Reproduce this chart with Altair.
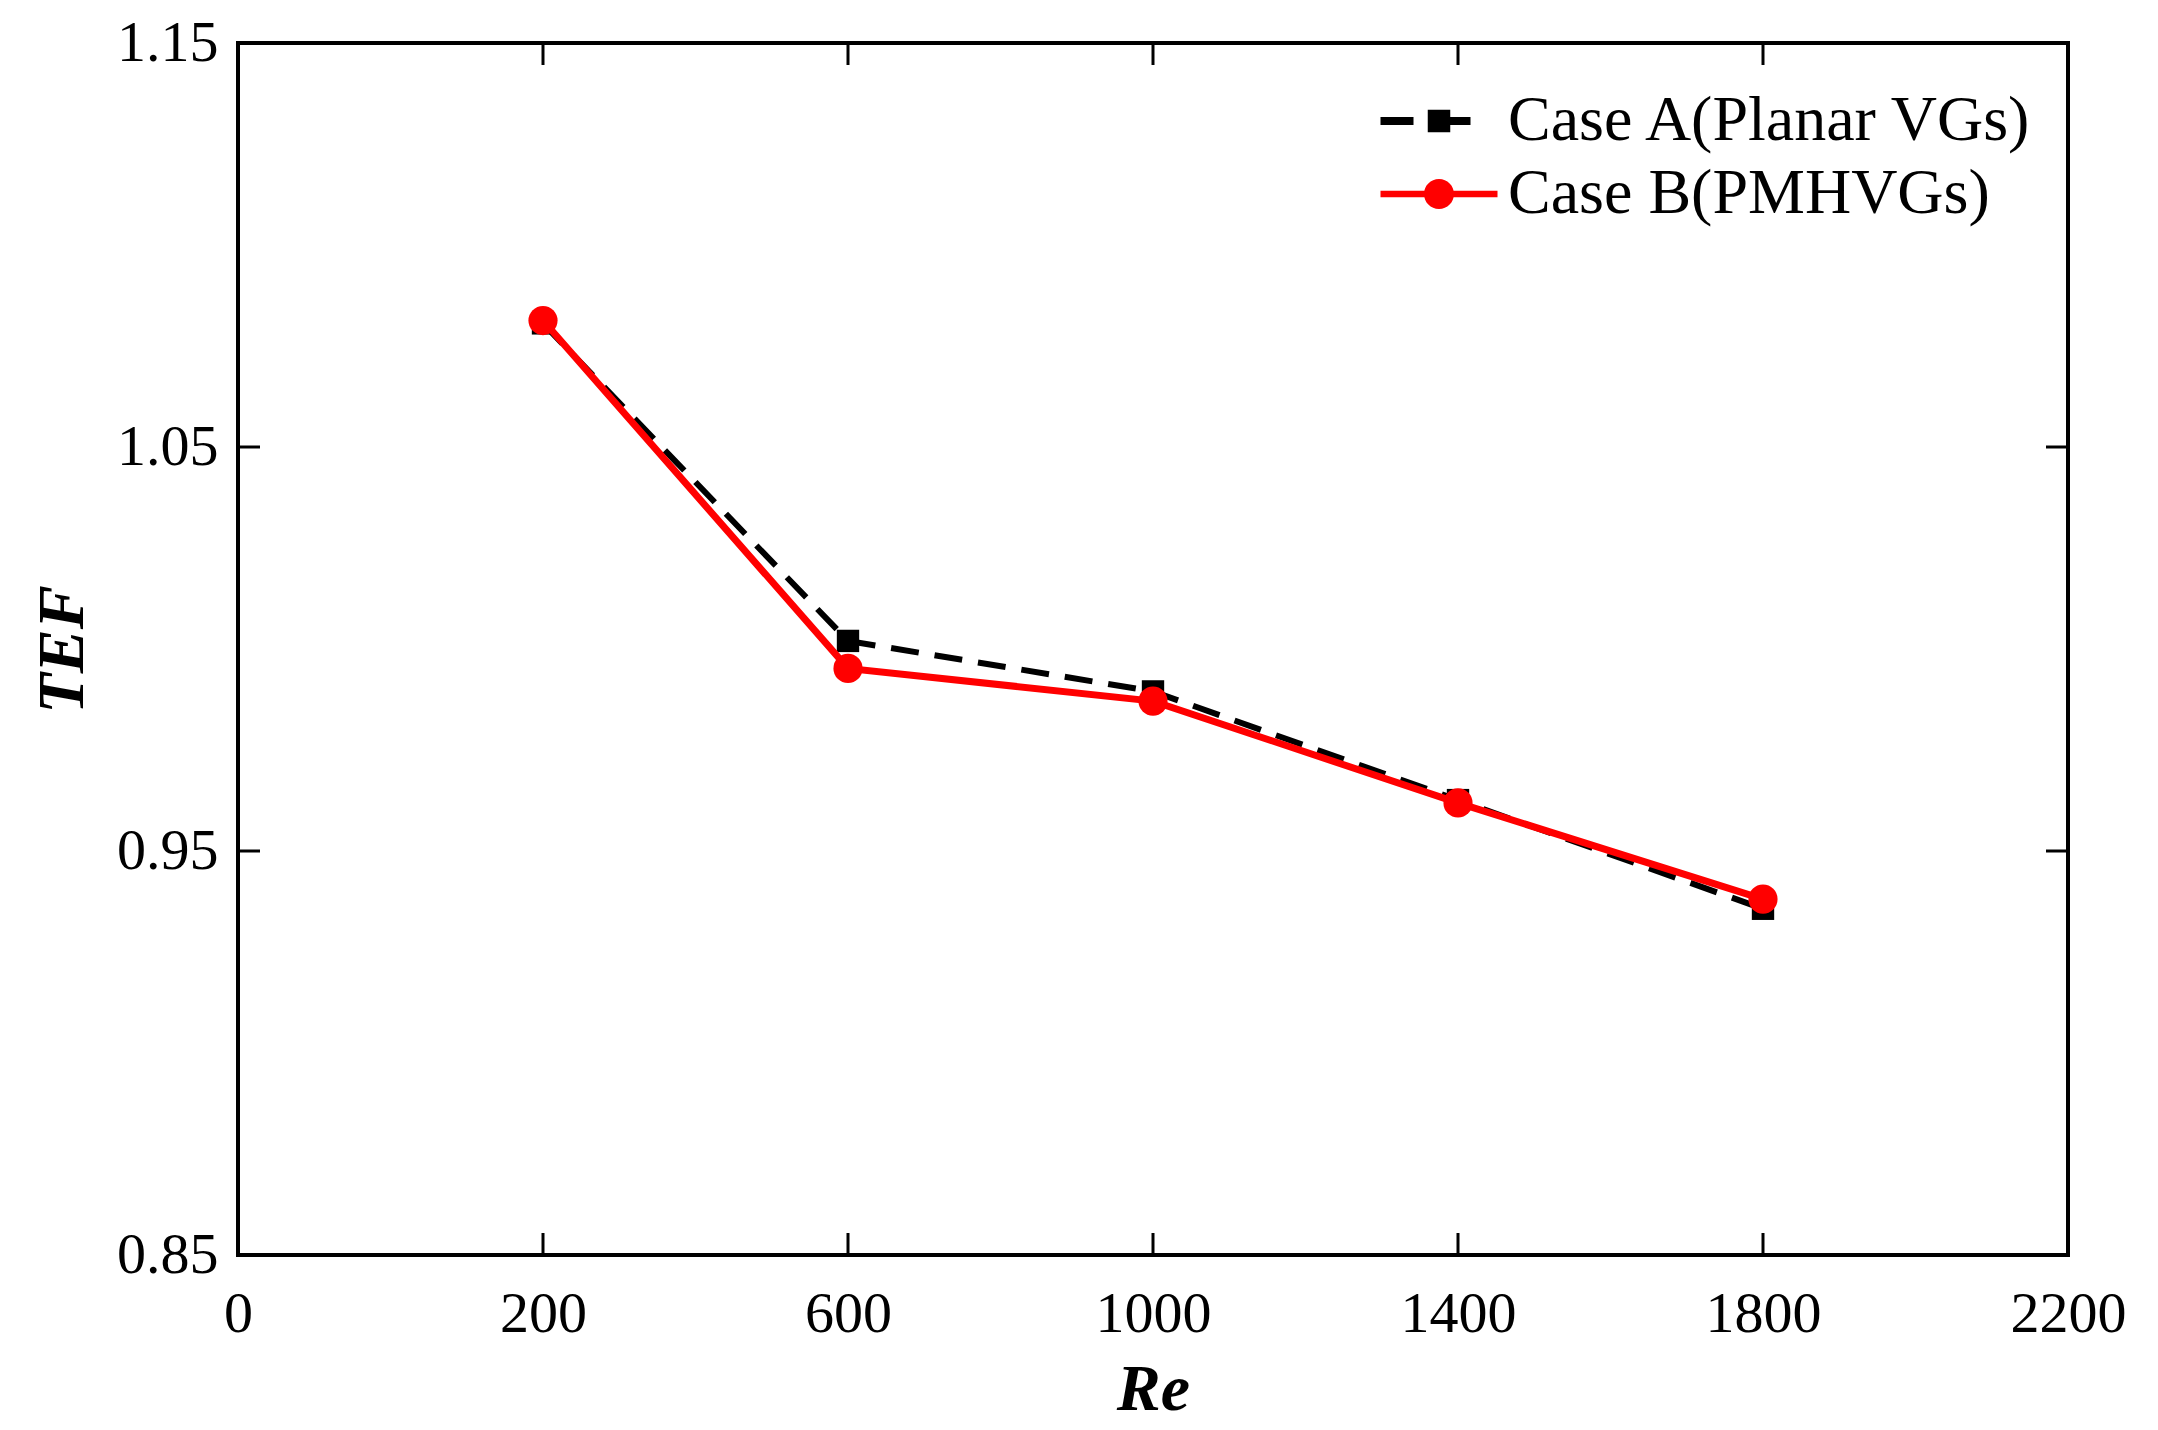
import altair as alt
import pandas as pd

re_values = [200, 600, 1000, 1400, 1800]
tef_case_a = [1.0806, 1.0020, 0.9895, 0.9626, 0.9357]
tef_case_b = [1.0813, 0.9952, 0.9871, 0.9619, 0.9381]
series_names = ["Case A(Planar VGs)", "Case B(PMHVGs)"]
x_tick_labels = [0, 200, 600, 1000, 1400, 1800, 2200]
y_tick_labels = [0.85, 0.95, 1.05, 1.15]
x_inner_ticks = [200, 600, 1000, 1400, 1800]
y_inner_ticks = [0.95, 1.05]

W, H = 1830, 1212
TICK = 22
FONT = "Liberation Serif"

df = pd.DataFrame({
    "Re": re_values * 2,
    "TEF": tef_case_a + tef_case_b,
    "series": [series_names[0]] * 5 + [series_names[1]] * 5,
})
dfx = pd.DataFrame({"xt": x_inner_ticks})
dfy = pd.DataFrame({"yt": y_inner_ticks})

# x axis ticks are equally spaced although values are not (piecewise scale)
n = len(x_tick_labels) - 1
xscale = alt.Scale(domain=x_tick_labels, range=[W * i / n for i in range(n + 1)])
yscale = alt.Scale(domain=[0.85, 1.15], nice=False, zero=False)

xaxis = alt.Axis(values=x_tick_labels, format="d", ticks=False, domain=False, grid=False,
                 labelFontSize=58, labelFont=FONT, labelColor="black", labelPadding=30,
                 title="Re", titleFont=FONT, titleFontSize=66, titleFontWeight="bold",
                 titleFontStyle="italic", titleColor="black", titlePadding=14,
                 labelFlush=False)
yaxis = alt.Axis(values=y_tick_labels, format=".2f", ticks=False, domain=False, grid=False,
                 labelFontSize=58, labelFont=FONT, labelColor="black", labelPadding=20,
                 title="TEF", titleFont=FONT, titleFontSize=66, titleFontWeight="bold",
                 titleFontStyle="italic", titleColor="black", titlePadding=20,
                 labelFlush=False)

base = alt.Chart(df)
x = alt.X("Re:Q", scale=xscale, axis=xaxis)
y = alt.Y("TEF:Q", scale=yscale, axis=yaxis)

line_a = base.transform_filter(alt.datum.series == series_names[0]).mark_line(
    color="black", strokeWidth=6, strokeDash=[28, 16]).encode(x=x, y=y)
pts_a = base.transform_filter(alt.datum.series == series_names[0]).mark_point(
    shape="square", filled=True, color="black", size=500, opacity=1).encode(x=x, y=y)
line_b = base.transform_filter(alt.datum.series == series_names[1]).mark_line(
    color="#ff0000", strokeWidth=7).encode(x=x, y=y)
pts_b = base.transform_filter(alt.datum.series == series_names[1]).mark_point(
    shape="circle", filled=True, color="#ff0000", size=850, opacity=1).encode(x=x, y=y)

# legend symbols: line + marker paths (unit = half marker size)
path_a = ("M-3.9,-0.27 H-1.7 V0.27 H-3.9 Z "
          "M-0.75,-0.75 H0.75 V0.75 H-0.75 Z "
          "M0.75,-0.27 H2.1 V0.27 H0.75 Z")
path_b = ("M-3.9,-0.22 H-0.9 V0.22 H-3.9 Z "
          "M0.9,-0.22 H3.9 V0.22 H0.9 Z "
          "M1,0 A1,1 0 1,1 -1,0 A1,1 0 1,1 1,0 Z")
leg = dict(title=None, orient="none", legendX=1169, legendY=46,
           labelFont=FONT, labelFontSize=64, labelColor="black", labelLimit=0,
           symbolSize=900, labelOffset=37, rowPadding=9,
           padding=0, symbolStrokeWidth=0, symbolOpacity=1)
legend_layer = base.transform_filter("false").mark_point(filled=True, opacity=1).encode(
    x=x, y=y,
    color=alt.Color("series:N", scale=alt.Scale(domain=series_names, range=["black", "#ff0000"]),
                    legend=alt.Legend(**leg)),
    shape=alt.Shape("series:N", scale=alt.Scale(domain=series_names, range=[path_a, path_b]),
                    legend=alt.Legend(**leg)),
)

tick_bottom = alt.Chart(dfx).mark_rule(color="black", strokeWidth=3).encode(
    x=alt.X("xt:Q", scale=xscale), y=alt.value(H), y2=alt.value(H - TICK))
tick_top = alt.Chart(dfx).mark_rule(color="black", strokeWidth=3).encode(
    x=alt.X("xt:Q", scale=xscale), y=alt.value(0), y2=alt.value(TICK))
tick_left = alt.Chart(dfy).mark_rule(color="black", strokeWidth=3).encode(
    y=alt.Y("yt:Q", scale=yscale), x=alt.value(0), x2=alt.value(TICK))
tick_right = alt.Chart(dfy).mark_rule(color="black", strokeWidth=3).encode(
    y=alt.Y("yt:Q", scale=yscale), x=alt.value(W), x2=alt.value(W - TICK))

chart = alt.layer(
    tick_bottom, tick_top, tick_left, tick_right,
    line_a, pts_a, line_b, pts_b, legend_layer,
).properties(
    width=W, height=H,
    autosize=alt.AutoSizeParams(type="none"),
    padding={"left": 230, "top": 35, "right": 82, "bottom": 167},
    background="white",
).configure_view(stroke="black", strokeWidth=4)

chart.save("out.html", embed_options={"renderer": "svg", "actions": False})
